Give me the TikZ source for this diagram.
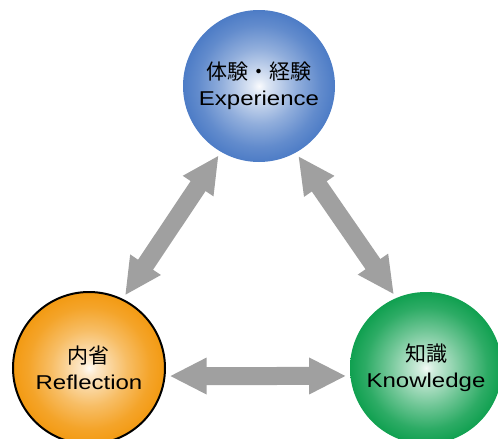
\documentclass[tikz,border=0pt]{standalone}
\usepackage{fontspec}
\setmainfont[FakeStretch=1.2]{Liberation Sans}
\newfontfamily\jpfont{Noto Sans CJK JP}
\usepackage{tikz}
\usetikzlibrary{arrows.meta}
\definecolor{expblue}{HTML}{4D7CC6}
\definecolor{reforange}{HTML}{F39A12}
\definecolor{knowgreen}{HTML}{10A050}
\definecolor{arrowgray}{HTML}{A0A0A0}
\pgfdeclareradialshading{expshade}{\pgfpoint{0bp}{0bp}}{color(0bp)=(white!97!expblue); color(2.5bp)=(white!82!expblue); color(12.5bp)=(white!38!expblue); color(20bp)=(white!12!expblue); color(25bp)=(expblue); color(50bp)=(expblue)}
\pgfdeclareradialshading{refshade}{\pgfpoint{0bp}{0bp}}{color(0bp)=(white!95!reforange); color(2.5bp)=(white!78!reforange); color(12.5bp)=(white!35!reforange); color(20bp)=(white!10!reforange); color(25bp)=(reforange); color(50bp)=(reforange)}
\pgfdeclareradialshading{knowshade}{\pgfpoint{0bp}{0bp}}{color(0bp)=(white!95!knowgreen); color(2.5bp)=(white!80!knowgreen); color(12.5bp)=(white!40!knowgreen); color(20bp)=(white!12!knowgreen); color(25bp)=(knowgreen); color(50bp)=(knowgreen)}
\tikzstyle{ball}=[circle,minimum size=152pt,inner sep=0pt,align=center]
\tikzstyle{dbl}=[{Triangle[length=37pt,width=34pt]}-{Triangle[length=37pt,width=34pt]},line width=18pt,draw=arrowgray,shorten <=4pt,shorten >=4pt]

\begin{document}
\begin{tikzpicture}
	[x=1pt,y=-1pt,font=\fontsize{20}{26}\selectfont]
	\useasboundingbox (0,0) rectangle (498,439);
	
	\node (exp) [ball,shading=expshade] at (259,86) {{\jpfont\fontsize{21}{26}\selectfont 体験・経験}\\Experience};
	\node (refl) [ball,shading=refshade,draw=black,line width=2pt] at (89,368) {{\jpfont\fontsize{21}{26}\selectfont 内省}\\Reflection};
	\node (know) [ball,shading=knowshade] at (426,368) {{\jpfont\fontsize{21}{26}\selectfont 知識}\\Knowledge};
	
	\draw[dbl] (refl.64) -- (exp.240);
	\draw[dbl] (exp.299) -- (know.113);
	\draw[dbl] (refl.-6) -- (know.186);
\end{tikzpicture}
\end{document}
